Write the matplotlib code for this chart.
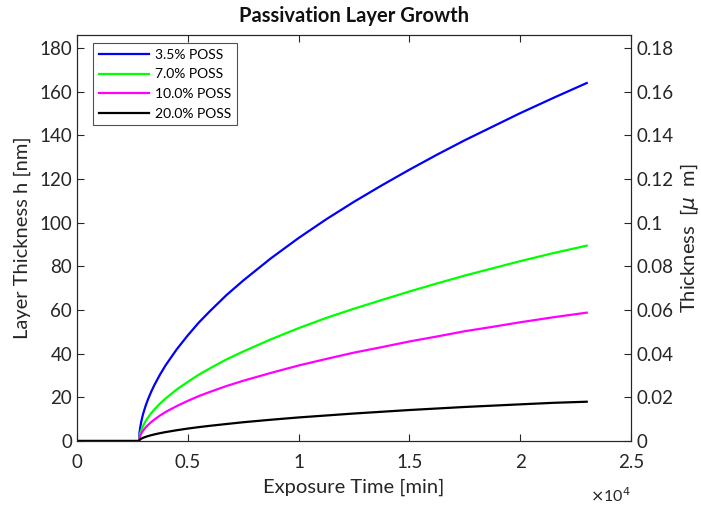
import matplotlib
matplotlib.use("Agg")
import matplotlib.pyplot as plt
from matplotlib.ticker import FuncFormatter

plt.rcParams['font.family'] = ['Lato', 'DejaVu Sans']
plt.rcParams['mathtext.fontset'] = 'dejavusans'

# Exposure time [min]
time_min = [0, 2800, 2820, 2850, 2900, 2950, 3000, 3100, 3200, 3350, 3500,
            3750, 4000, 4500, 5000, 5500, 6000, 6750, 7500, 8750, 10000,
            11250, 12500, 13750, 15000, 16250, 17500, 18750, 20000, 21500,
            23000]

# Layer thickness [nm] per POSS loading
h_35 = [0, 0, 3.65, 6.05, 8.86, 11.06, 12.96, 16.2, 18.98, 22.6, 25.8,
        30.5, 34.7, 42.0, 48.4, 54.3, 59.5, 66.9, 73.5, 83.7, 93.0,
        101.6, 109.6, 117.1, 124.3, 131.2, 137.8, 144.0, 150.2, 157.2,
        164.0]
h_70 = [0, 0, 2.06, 3.42, 5.0, 6.25, 7.32, 9.15, 10.72, 12.77, 14.55,
        17.2, 19.5, 23.6, 27.1, 30.4, 33.3, 37.4, 41.0, 46.6, 51.7,
        56.4, 60.6, 64.6, 68.5, 72.2, 75.8, 79.1, 82.4, 86.1, 89.5]
h_100 = [0, 0, 1.40, 2.33, 3.41, 4.26, 4.99, 6.24, 7.3, 8.68, 9.9,
         11.7, 13.3, 16.0, 18.4, 20.6, 22.5, 25.2, 27.6, 31.2, 34.6,
         37.6, 40.5, 43.0, 45.6, 47.9, 50.3, 52.3, 54.4, 56.7, 58.8]
h_200 = [0, 0, 0.43, 0.71, 1.05, 1.31, 1.53, 1.91, 2.24, 2.67, 3.04,
         3.6, 4.09, 4.94, 5.7, 6.37, 6.97, 7.8, 8.6, 9.75, 10.8,
         11.7, 12.6, 13.4, 14.2, 14.9, 15.6, 16.2, 16.8, 17.5, 18.0]

labels = ['3.5% POSS', '7.0% POSS', '10.0% POSS', '20.0% POSS']
colors = ['#0000ff', '#00ff00', '#ff00ff', '#000000']

x_ticks = [0, 5000, 10000, 15000, 20000, 25000]
y_ticks = [0, 20, 40, 60, 80, 100, 120, 140, 160, 180]
y_max = 186

axis_col = '#262626'
tick_fs = 13.5
label_fs = 14.5

fig = plt.figure(figsize=(7.01, 5.05), dpi=100)
ax = fig.add_axes([0.1098, 0.1267, 0.7904, 0.804])

for series, lab, col in zip([h_35, h_70, h_100, h_200], labels, colors):
    ax.plot(time_min, series, color=col, lw=1.6, label=lab,
            solid_joinstyle='round')

ax.set_xlim(0, 25000)
ax.set_ylim(0, y_max)
ax.set_xticks(x_ticks)
ax.xaxis.set_major_formatter(FuncFormatter(lambda v, p: f"{v / 1e4:g}"))
ax.set_yticks(y_ticks)

ax.tick_params(direction='in', length=5, width=0.8, colors=axis_col,
               labelsize=tick_fs, top=True, right=False)
ax.tick_params(axis='x', pad=9)
for s in ax.spines.values():
    s.set_color(axis_col)
    s.set_linewidth(0.8)

ax.set_xlabel('Exposure Time [min]', fontsize=label_fs, color=axis_col,
              labelpad=6)
ax.set_ylabel('Layer Thickness h [nm]', fontsize=label_fs, color=axis_col,
              labelpad=6)
ax.set_title('Passivation Layer Growth', fontsize=14.5, fontweight='bold',
             color='#111111', pad=9)
ax.text(1.0, -0.112, r'$\times$10$^{4}$', transform=ax.transAxes, ha='right',
        va='top', fontsize=11.5, color=axis_col)

# Secondary scale in micrometres
ax2 = ax.twinx()
ax2.set_ylim(0, y_max / 1000)
ax2.set_yticks([v / 1000 for v in y_ticks])
ax2.yaxis.set_major_formatter(FuncFormatter(lambda v, p: f"{v:g}"))
ax2.tick_params(direction='in', length=5, width=0.8, colors=axis_col,
                labelsize=tick_fs, pad=4)
for s in ax2.spines.values():
    s.set_color(axis_col)
    s.set_linewidth(0.8)
ax2.set_ylabel(r'Thickness  [$\mu$  m]', fontsize=label_fs, color=axis_col,
               labelpad=3)

leg = ax.legend(loc='upper left', bbox_to_anchor=(0.022, 0.99), fontsize=10,
                frameon=True, fancybox=False, handlelength=3.6,
                borderpad=0.4, labelspacing=0.55, handletextpad=0.45,
                borderaxespad=0.3)
leg.get_frame().set_edgecolor('#262626')
leg.get_frame().set_linewidth(0.8)

fig.savefig('out.png', dpi=100)
